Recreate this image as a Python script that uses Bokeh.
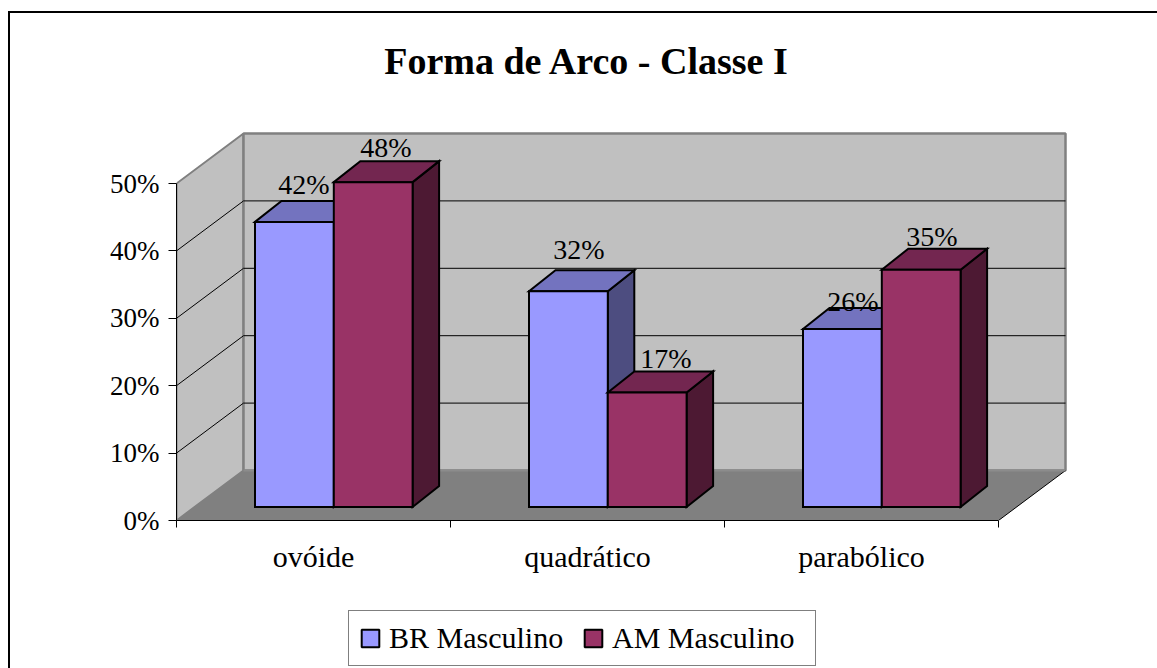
from bokeh.plotting import figure
from bokeh.layouts import column
from bokeh.models import (Range1d, FixedTicker, Legend, LegendItem, Label, PrintfTickFormatter, LinearAxis)
from bokeh.core.properties import value
from bokeh.embed import file_html
from bokeh.resources import INLINE

title_text = "Forma de Arco - Classe I"
categories = ["ovóide", "quadrático", "parabólico"]
series_names = ["BR Masculino", "AM Masculino"]
br_values = [42.3, 32.0, 26.4]
am_values = [48.2, 17.0, 35.2]
y_ticks = [0, 10, 20, 30, 40, 50]

# layout (px): the canvas starts at (10, 13), inside the chart's border
W, H1, H2 = 1147, 592, 63
F_L, F_R, F_T, F_B = 166, 1060, 0, 507
PX_CAT = 274.0
PX_PCT = 6.74
FONT = "Liberation Serif"

XU = lambda px: px / PX_CAT
YU = lambda px: px / PX_PCT

wall_dx, wall_dy = XU(67), YU(50)
bar_dx, bar_dy = XU(26.5), YU(21)
bar_base = YU(13.5)
bar_w = XU(78.8)
bar_start = XU(78.5)

p = figure(width=W, height=H1, output_backend="svg", toolbar_location=None,
           x_range=Range1d(0, XU(F_R - F_L)), y_range=Range1d(0, YU(F_B - F_T)),
           min_border_left=F_L, min_border_right=W - F_R,
           min_border_top=F_T, min_border_bottom=H1 - F_B,
           outline_line_color=None, background_fill_color=None, border_fill_color="white",
           x_axis_location=None, y_axis_location=None)
p.grid.visible = False

n = len(categories)
ymax = y_ticks[-1]
GRAY, WALL, FLOOR = "#808080", "#C0C0C0", "#808080"
BR_COLORS = ("#9999FF", "#7373BF", "#4D4D80")
AM_COLORS = ("#993366", "#732650", "#4D1933")

# walls and floor
p.patch([0, wall_dx, wall_dx, 0], [0, wall_dy, ymax + wall_dy, ymax],
        fill_color=WALL, line_color=GRAY, line_width=2)
p.patch([wall_dx, n + wall_dx, n + wall_dx, wall_dx], [wall_dy, wall_dy, ymax + wall_dy, ymax + wall_dy],
        fill_color=WALL, line_color=GRAY, line_width=2.5)
grid = [t for t in y_ticks[1:-1]]
p.multi_line([[0, wall_dx, n + wall_dx] for t in grid],
             [[t, t + wall_dy, t + wall_dy] for t in grid], line_color="black", line_width=1)
p.patch([0, n, n + wall_dx, wall_dx], [0, 0, wall_dy, wall_dy],
        fill_color=FLOOR, line_color=None)
p.line([n, n + wall_dx], [0, wall_dy], line_color="black", line_width=1)
p.line([wall_dx, n + wall_dx], [wall_dy, wall_dy], line_color="#8c8c8c", line_width=2)


def faces(vals, start, colors):
    front, top, side = colors
    left = [i + start for i in range(n)]
    right = [l + bar_w for l in left]
    tops = [bar_base + v for v in vals]
    p.patches([[r, r + bar_dx, r + bar_dx, r] for r in right],
              [[bar_base, bar_base + bar_dy, t + bar_dy, t] for t in tops],
              fill_color=side, line_color="black", line_width=2, line_join="miter")
    p.patches([[l, l + bar_dx, r + bar_dx, r] for l, r in zip(left, right)],
              [[t, t + bar_dy, t + bar_dy, t] for t in tops],
              fill_color=top, line_color="black", line_width=2, line_join="miter")
    p.vbar(x=[(l + r) / 2 for l, r in zip(left, right)], width=bar_w,
           bottom=bar_base, top=tops, fill_color=front, line_color="black",
           line_width=2, line_join="miter")


faces(br_values, bar_start, BR_COLORS)
faces(am_values, bar_start + bar_w, AM_COLORS)

# data labels (offset from the left edge / top of the front face, px)
br_lab_dx, br_lab_dy = [49, 50, 50], [37, 42, 28]
am_lab_dx, am_lab_dy = [52, 58, 50], [35, 34, 33]
lx, ly, lt = [], [], []
for i in range(n):
    lx += [i + bar_start + XU(br_lab_dx[i]), i + bar_start + bar_w + XU(am_lab_dx[i])]
    ly += [bar_base + br_values[i] + YU(br_lab_dy[i]), bar_base + am_values[i] + YU(am_lab_dy[i])]
    lt += [f"{round(br_values[i])}%", f"{round(am_values[i])}%"]
p.text(lx, ly, lt, text_font=value(FONT), text_font_size="28px", text_color="black",
       text_align="center", text_baseline="alphabetic")

# axes
ya = LinearAxis(ticker=FixedTicker(ticks=y_ticks), formatter=PrintfTickFormatter(format="%d%%"),
                bounds=(0, ymax))
ya.major_tick_in, ya.major_tick_out, ya.minor_tick_out, ya.minor_tick_in = 0, 8, 0, 0
ya.axis_line_color = "black"
ya.major_label_text_font = FONT
ya.major_label_text_font_size = "27px"
ya.major_label_text_color = "black"
ya.major_label_standoff = 9
p.add_layout(ya, "left")

xa = LinearAxis(ticker=FixedTicker(ticks=[i + 0.5 for i in range(n)], minor_ticks=list(range(n + 1))),
                bounds=(0, n),
                major_label_overrides={i + 0.5: c for i, c in enumerate(categories)})
xa.major_tick_in, xa.major_tick_out, xa.minor_tick_in, xa.minor_tick_out = 0, 0, 0, 7
xa.axis_line_color = "black"
xa.major_label_text_font = FONT
xa.major_label_text_font_size = "30px"
xa.major_label_text_color = "black"
xa.major_label_standoff = 12
p.add_layout(xa, "below")

# title
p.add_layout(Label(x=XU(576.5 - F_L), y=YU(F_B - 47), text=title_text, text_align="center",
                   text_baseline="alphabetic", text_font=FONT, text_font_size="38px",
                   text_font_style="bold", text_color="black"))

# legend strip below the plot (its key bars sit behind the opaque legend box)
q = figure(width=W, height=H2, output_backend="svg", toolbar_location=None,
           x_range=Range1d(0, 1), y_range=Range1d(0, 1),
           min_border=0, outline_line_color=None, background_fill_color=None, border_fill_color="white",
           x_axis_location=None, y_axis_location=None)
q.grid.visible = False
k_br = q.vbar(x=[0.4], top=[0.6], bottom=[0.4], width=0.01, fill_color=BR_COLORS[0], line_color="black", line_width=2)
k_am = q.vbar(x=[0.4], top=[0.6], bottom=[0.4], width=0.01, fill_color=AM_COLORS[0], line_color="black", line_width=2)
legend = Legend(items=[LegendItem(label=series_names[0], renderers=[k_br]),
                       LegendItem(label=series_names[1], renderers=[k_am])],
                orientation="horizontal", location=(172, 2), margin=0, padding=10,
                glyph_width=22, glyph_height=22, label_standoff=8, spacing=0, label_width=193, label_height=32,
                label_text_font=FONT, label_text_font_size="30px", label_text_color="black",
                border_line_color="black", border_line_width=1, background_fill_color="white",
                background_fill_alpha=1)
q.add_layout(legend, "center")

page = column(p, q, spacing=0,
              styles={"margin-left": "8px", "margin-top": "11px",
                      "border-left": "2px solid black", "border-top": "2px solid black"})

open("out.html", "w").write(file_html(page, INLINE))
